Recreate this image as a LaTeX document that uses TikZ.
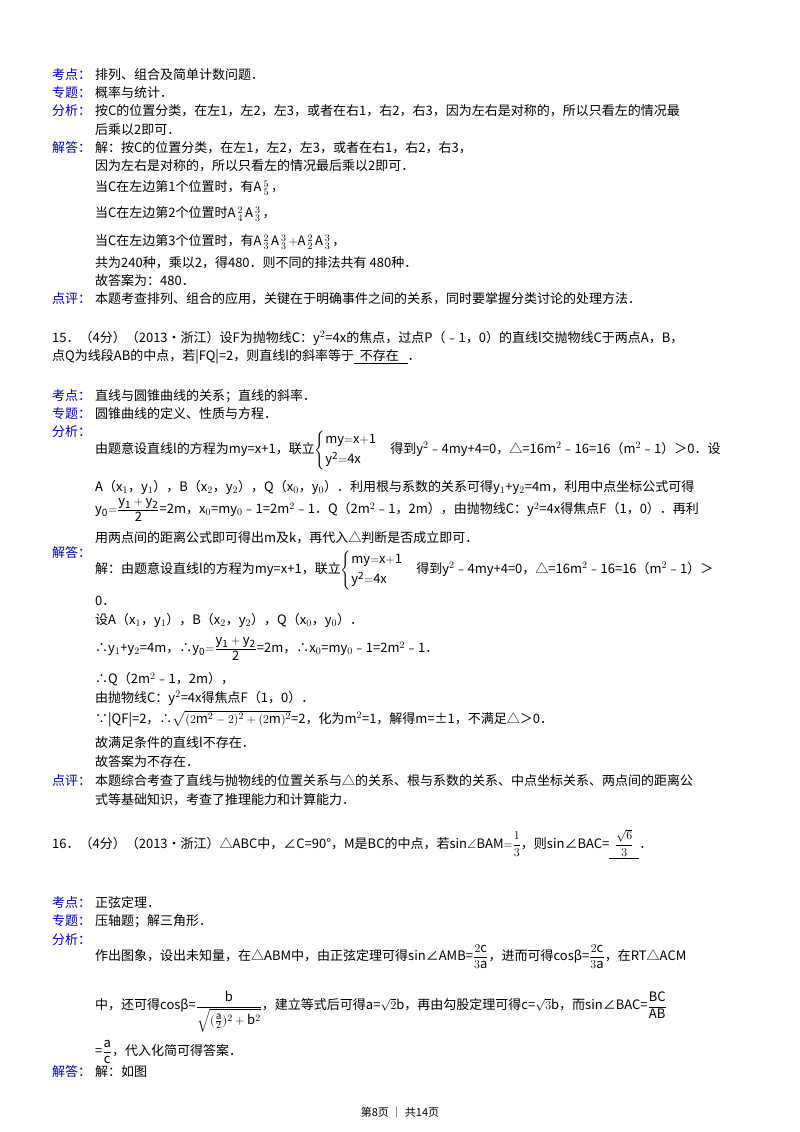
\documentclass[tikz,border=0pt]{standalone}
\usepackage{fontspec}
\setmainfont{Noto Sans CJK SC}
\usepackage{amsmath,amssymb}
\DeclareMathSizes{13}{13}{10}{8}
\newcommand{\Aperm}[2]{\mathrm{A}\,{}^{#2}_{#1}\,}
\begin{document}
\begin{tikzpicture}[x=1pt,y=-1pt,
  lab/.style={anchor=west,text=blue!70!black,font=\fontsize{13}{15}\selectfont,inner sep=0pt},
  ln/.style={anchor=west,font=\fontsize{13}{15}\selectfont,inner sep=0pt}]
\useasboundingbox[fill=white] (0,0) rectangle (800,1132);
\node[lab] (k1) at (52,75) {考点：};
\node[ln] (k1t) at (95,75) {排列、组合及简单计数问题．};
\node[lab] (z1) at (52,93) {专题：};
\node[ln] (z1t) at (95,93) {概率与统计．};
\node[lab] (f1) at (52,111) {分析：};
\node[ln] (f1a) at (95,111) {按C的位置分类，在左1，左2，左3，或者在右1，右2，右3，因为左右是对称的，所以只看左的情况最};
\node[ln] (f1b) at (95,130) {后乘以2即可．};
\node[lab] (j1) at (52,148) {解答：};
\node[ln] (j1a) at (95,148) {解：按C的位置分类，在左1，左2，左3，或者在右1，右2，右3，};
\node[ln] (j1b) at (95,166) {因为左右是对称的，所以只看左的情况最后乘以2即可．};
\node[ln] (j1c) at (95,188) {当C在左边第1个位置时，有$\Aperm{5}{5}$，};
\node[ln] (j1d) at (95,214) {当C在左边第2个位置时$\Aperm{4}{2}\Aperm{3}{3}$，};
\node[ln] (j1e) at (95,242) {当C在左边第3个位置时，有$\Aperm{3}{2}\Aperm{3}{3}{+}\Aperm{2}{2}\Aperm{3}{3}$，};
\node[ln] (j1f) at (95,263) {共为240种，乘以2，得480．则不同的排法共有 480种．};
\node[ln] (j1g) at (95,281) {故答案为：480．};
\node[lab] (d1) at (52,299) {点评：};
\node[ln] (d1t) at (95,299) {本题考查排列、组合的应用，关键在于明确事件之间的关系，同时要掌握分类讨论的处理方法．};
%
\node[ln] (q15a) at (52,338) {15．（4分）（2013•浙江）设F为抛物线C：y$^2$=4x的焦点，过点P（﹣1，0）的直线l交抛物线C于两点A，B，};
\node[ln] (q15b) at (52,357) {点Q为线段AB的中点，若|FQ|=2，则直线l的斜率等于\underline{\ \ 不存在\ \ \ }．};
\node[lab] (k2) at (52,396) {考点：};
\node[ln] (k2t) at (95,396) {直线与圆锥曲线的关系；直线的斜率．};
\node[lab] (z2) at (52,414) {专题：};
\node[ln] (z2t) at (95,414) {圆锥曲线的定义、性质与方程．};
\node[lab] (f2) at (52,432) {分析：};
\node[ln] (f2a) at (95,450) {由题意设直线l的方程为my=x+1，联立$\begin{cases}\mathrm{my{=}x{+}1}\\[2pt] \mathrm{y^2{=}4x}\end{cases}$得到y$^2$﹣4my+4=0，△=16m$^2$﹣16=16（m$^2$﹣1）＞0．设};
\node[ln] (f2b) at (95,487) {A（x$_1$，y$_1$），B（x$_2$，y$_2$），Q（x$_0$，y$_0$）．利用根与系数的关系可得y$_1$+y$_2$=4m，利用中点坐标公式可得};
\node[ln] (f2c) at (95,510) {$\mathrm{y_0{=}\dfrac{y_1+y_2}{2}}$=2m，x$_0$=my$_0$﹣1=2m$^2$﹣1．Q（2m$^2$﹣1，2m），由抛物线C：y$^2$=4x得焦点F（1，0）．再利};
\node[ln] (f2d) at (95,538) {用两点间的距离公式即可得出m及k，再代入△判断是否成立即可．};
\node[lab] (j2) at (52,553) {解答：};
\node[ln] (j2a) at (95,570) {解：由题意设直线l的方程为my=x+1，联立$\begin{cases}\mathrm{my{=}x{+}1}\\[2pt] \mathrm{y^2{=}4x}\end{cases}$得到y$^2$﹣4my+4=0，△=16m$^2$﹣16=16（m$^2$﹣1）＞};
\node[ln] (j2b) at (95,601) {0．};
\node[ln] (j2c) at (95,620) {设A（x$_1$，y$_1$），B（x$_2$，y$_2$），Q（x$_0$，y$_0$）．};
\node[ln] (j2d) at (95,649) {∴y$_1$+y$_2$=4m，∴$\mathrm{y_0{=}\dfrac{y_1+y_2}{2}}$=2m，∴x$_0$=my$_0$﹣1=2m$^2$﹣1．};
\node[ln] (j2e) at (95,679) {∴Q（2m$^2$﹣1，2m），};
\node[ln] (j2f) at (95,698) {由抛物线C：y$^2$=4x得焦点F（1，0）．};
\node[ln] (j2g) at (95,719) {∵|QF|=2，∴$\sqrt{(2\mathrm{m}^2-2)^2+(2\mathrm{m})^2}$=2，化为m$^2$=1，解得m=±1，不满足△＞0．};
\node[ln] (j2h) at (95,743) {故满足条件的直线l不存在．};
\node[ln] (j2i) at (95,762) {故答案为不存在．};
\node[lab] (d2) at (52,781) {点评：};
\node[ln] (d2a) at (95,781) {本题综合考查了直线与抛物线的位置关系与△的关系、根与系数的关系、中点坐标关系、两点间的距离公};
\node[ln] (d2b) at (95,800) {式等基础知识，考查了推理能力和计算能力．};
%
\node[ln] (q16) at (52,844) {16．（4分）（2013•浙江）△ABC中，∠C=90°，M是BC的中点，若$\mathrm{sin}\angle\mathrm{BAM}{=}\dfrac{1}{3}$，则sin∠BAC=\underline{\ \ $\dfrac{\sqrt6}{3}$\ \ }．};
\node[lab] (k3) at (52,903) {考点：};
\node[ln] (k3t) at (95,903) {正弦定理．};
\node[lab] (z3) at (52,921) {专题：};
\node[ln] (z3t) at (95,921) {压轴题；解三角形．};
\node[lab] (f3) at (52,940) {分析：};
\node[ln] (f3a) at (95,957) {作出图象，设出未知量，在△ABM中，由正弦定理可得sin∠AMB=$\dfrac{2\mathrm{c}}{3\mathrm{a}}$，进而可得cosβ=$\dfrac{2\mathrm{c}}{3\mathrm{a}}$，在RT△ACM};
\node[ln] (f3b) at (95,1012) {中，还可得cosβ=$\dfrac{\mathrm b}{\sqrt{(\frac{\mathrm a}{2})^2+\mathrm b^2}}$，建立等式后可得a=$\sqrt2$b，再由勾股定理可得c=$\sqrt3$b，而sin∠BAC=$\dfrac{\mathrm{BC}}{\mathrm{AB}}$};
\node[ln] (f3c) at (95,1052) {=$\dfrac{\mathrm a}{\mathrm c}$，代入化简可得答案．};
\node[lab] (j3) at (52,1072) {解答：};
\node[ln] (j3t) at (95,1072) {解：如图};
\node[ln,anchor=center,font=\fontsize{11}{13}\selectfont] (foot) at (400,1112) {第8页 ｜ 共14页};
\end{tikzpicture}
\end{document}
